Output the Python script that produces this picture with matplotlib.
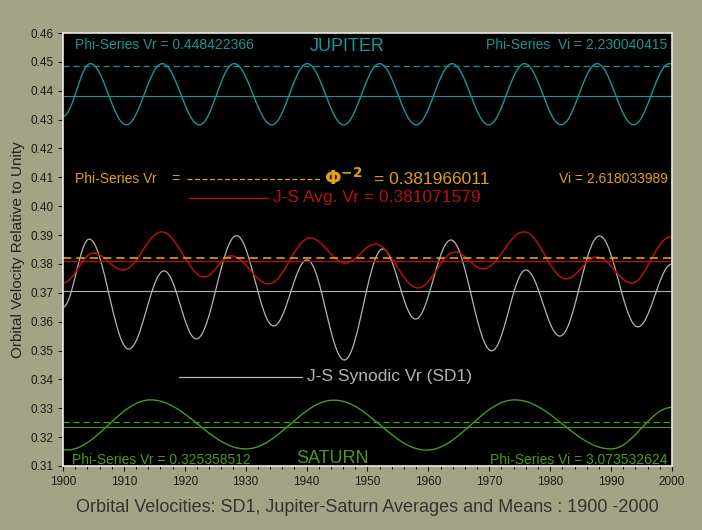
import numpy as np
import matplotlib.pyplot as plt

plt.rcParams['font.family'] = 'Liberation Sans'

# key points (year, value): extrema of each curve
jup_years = [1900.0, 1904.5, 1910.4, 1916.3, 1922.4, 1928.1, 1934.3, 1940.1, 1946.1,
             1952.0, 1958.0, 1963.9, 1969.9, 1975.8, 1981.8, 1987.7, 1993.7, 1999.6, 2000.0]
jup_vals = [0.4311, 0.4494, 0.4282, 0.4494, 0.4282, 0.4494, 0.4282, 0.4494, 0.4282,
            0.4494, 0.4282, 0.4494, 0.4282, 0.4494, 0.4282, 0.4494, 0.4282, 0.4494, 0.4493]

sat_years = [1900.0, 1900.5, 1914.4, 1930.0, 1944.5, 1959.7, 1974.2, 1990.0, 2000.0]
sat_vals = [0.3158, 0.3155, 0.3329, 0.3159, 0.3328, 0.3155, 0.3329, 0.3159, 0.3303]

sd1_years = [1900.0, 1904.3, 1910.8, 1916.6, 1921.9, 1928.5, 1934.6, 1940.1, 1946.2,
             1952.5, 1957.9, 1963.7, 1970.4, 1976.0, 1981.6, 1988.1, 1994.4, 2000.0]
sd1_vals = [0.3650, 0.3886, 0.3505, 0.3776, 0.3540, 0.3898, 0.3585, 0.3814, 0.3467,
            0.3852, 0.3609, 0.3883, 0.3499, 0.3779, 0.3550, 0.3897, 0.3582, 0.3800]

avg_years = [1900.0, 1905.0, 1909.9, 1916.2, 1923.2, 1927.6, 1933.8, 1940.6, 1946.4,
             1951.3, 1958.3, 1964.4, 1969.0, 1975.7, 1982.6, 1987.7, 1993.4, 1999.7, 2000.0]
avg_vals = [0.3734, 0.3838, 0.3779, 0.3911, 0.3755, 0.3828, 0.3731, 0.3890, 0.3803,
            0.3869, 0.3717, 0.3841, 0.3783, 0.3911, 0.3748, 0.3824, 0.3734, 0.3893, 0.3892]

jup_phi, jup_mean = 0.448422366, 0.4382
sat_phi, sat_mean = 0.325358512, 0.3235
phi2, avg_mean, sd1_mean = 0.381966011, 0.381071579, 0.3706

BG = '#a3a385'
TEAL = '#1a9696'
ORANGE = '#e0a010'
RED = '#b81010'
GREY = '#b4b4b4'
GREEN = '#4c9a18'


def smooth(xs, ys, n=30):
    # half-cosine easing between consecutive key points (rendering only)
    ox, oy = [], []
    for i in range(len(xs) - 1):
        t = np.linspace(0, 1, n, endpoint=False)
        w = (1 - np.cos(np.pi * t)) / 2
        ox.extend(xs[i] + (xs[i + 1] - xs[i]) * t)
        oy.extend(ys[i] + (ys[i + 1] - ys[i]) * w)
    ox.append(xs[-1])
    oy.append(ys[-1])
    return ox, oy


fig = plt.figure(figsize=(7.02, 5.30), dpi=100, facecolor=BG)
ax = fig.add_axes([0.0897, 0.1208, 0.8675, 0.8169], facecolor='black')

ax.plot(*smooth(jup_years, jup_vals), color=TEAL, lw=1)
ax.plot(*smooth(sat_years, sat_vals), color=GREEN, lw=1)
ax.plot(*smooth(sd1_years, sd1_vals), color=GREY, lw=0.9)
ax.plot(*smooth(avg_years, avg_vals), color=RED, lw=1.1)

ax.axhline(jup_phi, color=TEAL, lw=0.9, ls=(0, (5, 3)))
ax.axhline(jup_mean, color=TEAL, lw=0.8)
ax.axhline(sat_phi, color=GREEN, lw=0.9, ls=(0, (5, 3)))
ax.axhline(sat_mean, color=GREEN, lw=0.8)
ax.axhline(phi2, color=ORANGE, lw=1.2, ls=(0, (5, 3)))
ax.axhline(avg_mean, color=RED, lw=0.9)
ax.axhline(sd1_mean, color=GREY, lw=0.8)

ax.set_xlim(1900, 2000)
ax.set_ylim(0.31, 0.46)
ax.set_xticks(np.arange(1900, 2001, 10))
ax.set_xticks(np.arange(1900, 2001, 2), minor=True)
ax.set_yticks(np.arange(0.31, 0.461, 0.01))
ax.set_yticklabels([f'{v:.2f}' for v in np.arange(0.31, 0.461, 0.01)])
ax.tick_params(labelsize=8.5, colors='#1a1a1a', direction='out')
for s in ax.spines.values():
    s.set_color('#e8e8e8')
    s.set_linewidth(1.2)

ax.set_ylabel('Orbital Velocity Relative to Unity', fontsize=11, color='#222222')
ax.set_xlabel('Orbital Velocities: SD1, Jupiter-Saturn Averages and Means : 1900 -2000',
              fontsize=13, color='#333333', labelpad=8)

# annotations
ax.text(1902, 0.4558, 'Phi-Series Vr = 0.448422366', color=TEAL, fontsize=10, va='center')
ax.text(1946.7, 0.4555, 'JUPITER', color=TEAL, fontsize=13, va='center', ha='center')
ax.text(1999.3, 0.4558, 'Phi-Series  Vi = 2.230040415', color=TEAL, fontsize=10,
        va='center', ha='right')

ax.text(1902, 0.4095, 'Phi-Series Vr    =', color=ORANGE, fontsize=10, va='center')
ax.plot([1920.4, 1942.5], [0.4095, 0.4095], color=ORANGE, lw=0.9, ls=(0, (4, 2)))
ax.text(1942.8, 0.4097, r'$\mathbf{\Phi}^{\mathbf{-2}}$', color=ORANGE, fontsize=14, va='center')
ax.text(1951.0, 0.4093, '= 0.381966011', color=ORANGE, fontsize=12.5, va='center')
ax.text(1999.3, 0.4095, 'Vi = 2.618033989', color=ORANGE, fontsize=10, va='center', ha='right')

ax.plot([1920.7, 1933.7], [0.4029, 0.4029], color=RED, lw=1)
ax.text(1934.5, 0.4029, 'J-S Avg. Vr = 0.381071579', color=RED, fontsize=12.5, va='center')

ax.plot([1919.0, 1939.3], [0.3409, 0.3409], color=GREY, lw=0.9)
ax.text(1940.0, 0.3409, 'J-S Synodic Vr (SD1)', color=GREY, fontsize=12.5, va='center')

ax.text(1901.5, 0.3122, 'Phi-Series Vr = 0.325358512', color=GREEN, fontsize=10, va='center')
ax.text(1944.2, 0.3125, 'SATURN', color=GREEN, fontsize=13, va='center', ha='center')
ax.text(1999.3, 0.3122, 'Phi-Series Vi = 3.073532624', color=GREEN, fontsize=10,
        va='center', ha='right')

fig.savefig('out.png', dpi=100, facecolor=BG)
